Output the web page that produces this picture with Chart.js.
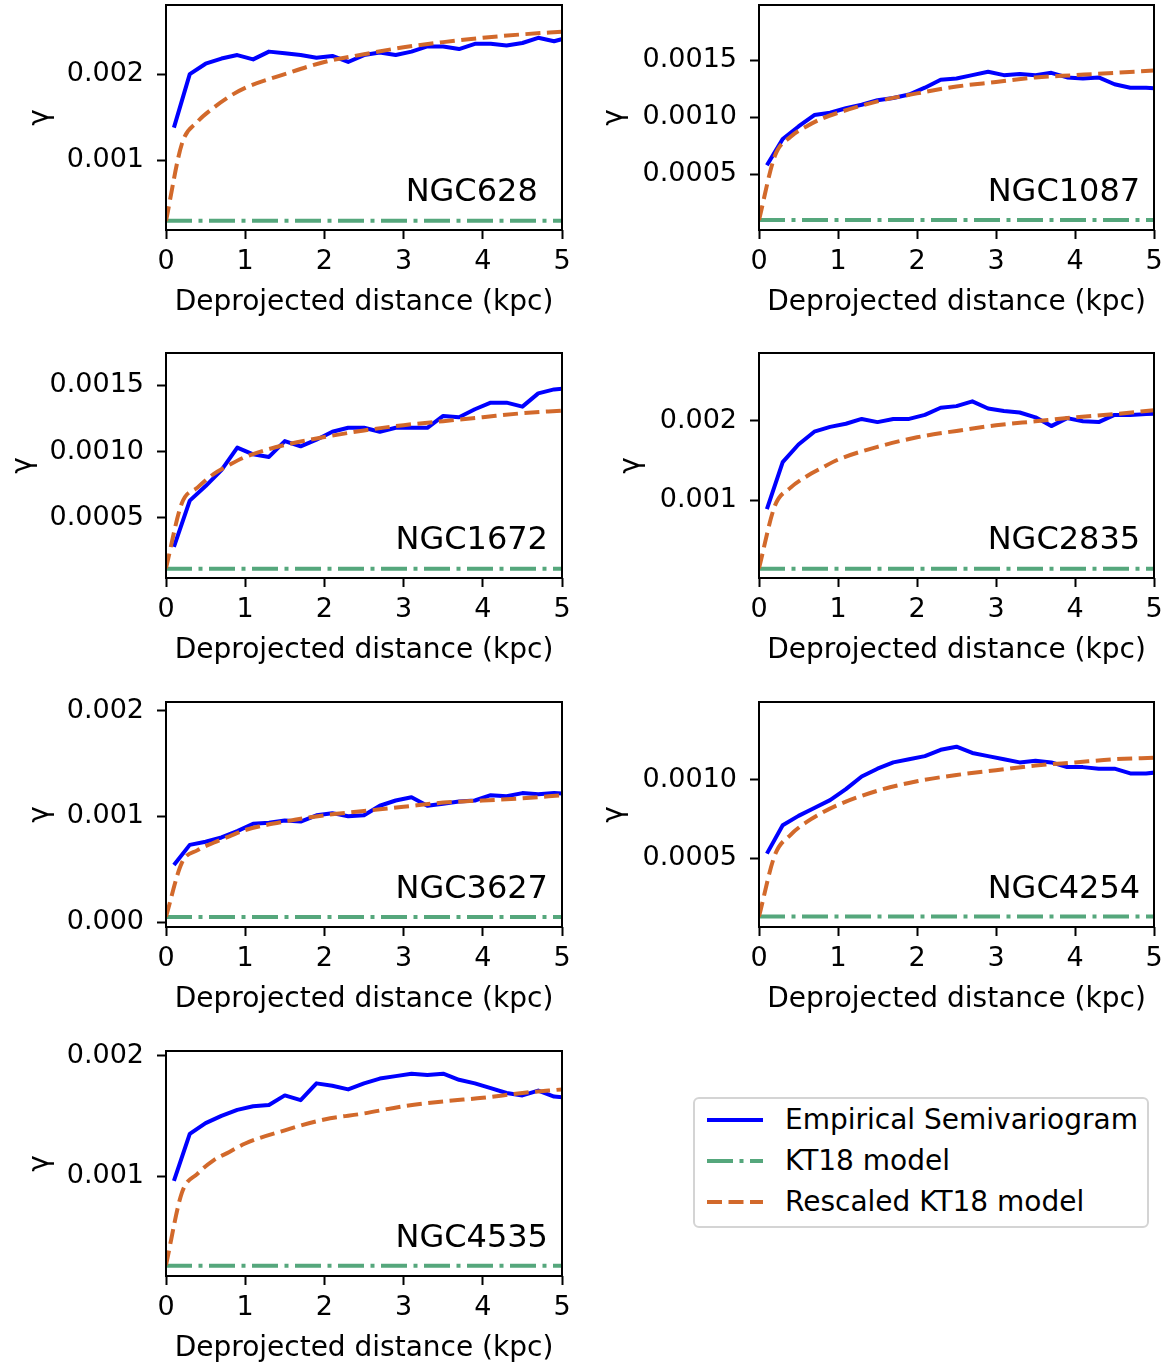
<!DOCTYPE html>
<html>
<head>
<meta charset="utf-8">
<script src="https://cdn.jsdelivr.net/npm/chart.js@4.4.1/dist/chart.umd.min.js"></script>
<style>
  html, body { margin: 0; padding: 0; background: #fff; }
  body { width: 1170px; height: 1362px; position: relative; overflow: hidden; font-family: "DejaVu Sans", sans-serif; }
  canvas.panel { position: absolute; }
  .legend { position: absolute; left: 693px; top: 1097px; width: 452px; height: 127px;
            border: 2px solid #d4d4d4; border-radius: 6px; background: #fff; }
  .legend .row { position: absolute; left: 0; width: 100%; height: 40px; }
  .legend svg { position: absolute; left: 10px; top: 0; }
  .legend span { position: absolute; left: 90px; top: 0; line-height: 40px; font-size: 28px; color: #000; white-space: nowrap; }
</style>
</head>
<body>
<div class="legend">
  <div class="row" style="top:1px">
    <svg width="60" height="40"><line x1="2" y1="20" x2="58" y2="20" stroke="#0000ff" stroke-width="4"/></svg>
    <span>Empirical Semivariogram</span>
  </div>
  <div class="row" style="top:42px">
    <svg width="60" height="40"><line x1="2" y1="20" x2="58" y2="20" stroke="#55a77c" stroke-width="4" stroke-dasharray="26 6.5 4 6.5"/></svg>
    <span>KT18 model</span>
  </div>
  <div class="row" style="top:83px">
    <svg width="60" height="40"><line x1="2" y1="20" x2="58" y2="20" stroke="#d2692b" stroke-width="4" stroke-dasharray="15 6.5"/></svg>
    <span>Rescaled KT18 model</span>
  </div>
</div>
<script>
// distances (kpc)
const empDist = [0.1, 0.3, 0.5, 0.7, 0.9, 1.1, 1.3, 1.5, 1.7, 1.9, 2.1, 2.3, 2.5,
                 2.7, 2.9, 3.1, 3.3, 3.5, 3.7, 3.9, 4.1, 4.3, 4.5, 4.7, 4.9, 5.1];
const modelDist = [0, 0.2, 0.4, 0.6, 0.8, 1.0, 1.5, 2.0, 2.5, 3.0, 3.5, 4.0, 4.5, 5.0];
const kt18Dist = [0, 5];
const xTickValues = [0, 1, 2, 3, 4, 5];

// empirical semivariograms
const emp628 = [0.00138, 0.00200, 0.00212, 0.00218, 0.00222, 0.00217, 0.00226, 0.00224, 0.00222, 0.00219, 0.00221, 0.00214, 0.00222,
                0.00225, 0.00222, 0.00226, 0.00232, 0.00232, 0.00229, 0.00235, 0.00235, 0.00233, 0.00236, 0.00242, 0.00238, 0.00243];
const emp1087 = [0.00058, 0.00081, 0.00092, 0.00102, 0.00104, 0.00108, 0.00111, 0.00115, 0.00117, 0.00120, 0.00126, 0.00133, 0.00134,
                 0.00137, 0.00140, 0.00137, 0.00138, 0.00137, 0.00139, 0.00135, 0.00134, 0.00135, 0.00129, 0.00126, 0.00126, 0.00125];
const emp1672 = [0.00028, 0.00063, 0.00074, 0.00086, 0.00103, 0.00098, 0.00096, 0.00108, 0.00104, 0.00109, 0.00115, 0.00118, 0.00118,
                 0.00115, 0.00118, 0.00118, 0.00118, 0.00127, 0.00126, 0.00132, 0.00137, 0.00137, 0.00134, 0.00144, 0.00147, 0.00148];
const emp2835 = [0.00089, 0.00148, 0.00170, 0.00186, 0.00192, 0.00196, 0.00202, 0.00198, 0.00202, 0.00202, 0.00207, 0.00216, 0.00218,
                 0.00224, 0.00215, 0.00212, 0.00210, 0.00204, 0.00193, 0.00203, 0.00199, 0.00198, 0.00207, 0.00207, 0.00208, 0.00209];
const emp3627 = [0.00054, 0.00073, 0.00076, 0.00080, 0.00086, 0.00093, 0.00094, 0.00096, 0.00095, 0.00101, 0.00103, 0.00100, 0.00101,
                 0.00110, 0.00115, 0.00118, 0.00110, 0.00112, 0.00114, 0.00115, 0.00120, 0.00119, 0.00122, 0.00121, 0.00122, 0.00121];
const emp4254 = [0.00053, 0.00071, 0.00077, 0.00082, 0.00087, 0.00094, 0.00102, 0.00107, 0.00111, 0.00113, 0.00115, 0.00119, 0.00121,
                 0.00117, 0.00115, 0.00113, 0.00111, 0.00112, 0.00111, 0.00108, 0.00108, 0.00107, 0.00107, 0.00104, 0.00104, 0.00105];
const emp4535 = [0.00096, 0.00135, 0.00144, 0.00150, 0.00155, 0.00158, 0.00159, 0.00167, 0.00163, 0.00177, 0.00175, 0.00172, 0.00177,
                 0.00181, 0.00183, 0.00185, 0.00184, 0.00185, 0.00180, 0.00177, 0.00173, 0.00169, 0.00167, 0.00171, 0.00166, 0.00165];

// rescaled KT18 model
const model628 = [0.00030, 0.00119, 0.00145, 0.00161, 0.00174, 0.00184, 0.00200, 0.00214, 0.00223, 0.00231, 0.00237, 0.00242, 0.00246, 0.00249];
const model1087 = [0.00010, 0.00066, 0.00083, 0.00092, 0.00099, 0.00104, 0.00114, 0.00121, 0.00127, 0.00131, 0.00135, 0.00137, 0.00139, 0.00141];
const model1672 = [0.00012, 0.00061, 0.00073, 0.00083, 0.00090, 0.00096, 0.00105, 0.00111, 0.00116, 0.00120, 0.00123, 0.00126, 0.00129, 0.00131];
const model2835 = [0.00015, 0.00093, 0.00116, 0.00130, 0.00141, 0.00151, 0.00167, 0.00179, 0.00187, 0.00194, 0.00199, 0.00204, 0.00208, 0.00213];
const model3627 = [0.00005, 0.00056, 0.00068, 0.00075, 0.00081, 0.00087, 0.00095, 0.00101, 0.00105, 0.00109, 0.00113, 0.00115, 0.00117, 0.00120];
const model4254 = [0.00013, 0.00052, 0.00065, 0.00073, 0.00079, 0.00084, 0.00093, 0.00099, 0.00103, 0.00106, 0.00109, 0.00111, 0.00113, 0.00114];
const model4535 = [0.00026, 0.00086, 0.00102, 0.00113, 0.00120, 0.00127, 0.00138, 0.00147, 0.00152, 0.00158, 0.00162, 0.00165, 0.00169, 0.00172];

// KT18 model (flat)
const kt18_628 = [0.00030, 0.00030];
const kt18_1087 = [0.00010, 0.00010];
const kt18_1672 = [0.000116, 0.000116];
const kt18_2835 = [0.000146, 0.000146];
const kt18_3627 = [0.000047, 0.000047];
const kt18_4254 = [0.00013, 0.00013];
const kt18_4535 = [0.000255, 0.000255];

// y tick labels
const ticks3 = [0.001, 0.002];
const ticks3zero = [0, 0.001, 0.002];
const ticks4 = [0.0005, 0.0010, 0.0015];
const ticks4short = [0.0005, 0.0010];

const BLUE = '#0000ff', GREEN = '#55a77c', ORANGE = '#d2692b';
const TICK_FONT = { family: 'DejaVu Sans', size: 27 };
const TITLE_FONT = { family: 'DejaVu Sans', size: 28 };

const panels = [
  { name: 'NGC628',  col: 0, row: 0, emp: emp628,  model: model628,  kt: kt18_628,  yMin: 0.000194,   yMax: 0.00280,  yTicks: ticks3,      dec: 3, padL: 20 },
  { name: 'NGC1087', col: 1, row: 0, emp: emp1087, model: model1087, kt: kt18_1087, yMin: 0.000012,   yMax: 0.001985, yTicks: ticks4,      dec: 4, padL: 4 },
  { name: 'NGC1672', col: 0, row: 1, emp: emp1672, model: model1672, kt: kt18_1672, yMin: 0.0000455,  yMax: 0.001745, yTicks: ticks4,      dec: 4, padL: 3 },
  { name: 'NGC2835', col: 1, row: 1, emp: emp2835, model: model2835, kt: kt18_2835, yMin: 0.000029,   yMax: 0.002845, yTicks: ticks3,      dec: 3, padL: 21 },
  { name: 'NGC3627', col: 0, row: 2, emp: emp3627, model: model3627, kt: kt18_3627, yMin: -0.0000473, yMax: 0.002082, yTicks: ticks3zero,  dec: 3, padL: 20 },
  { name: 'NGC4254', col: 1, row: 2, emp: emp4254, model: model4254, kt: kt18_4254, yMin: 0.0000636,  yMax: 0.001494, yTicks: ticks4short, dec: 4, padL: 4 },
  { name: 'NGC4535', col: 0, row: 3, emp: emp4535, model: model4535, kt: kt18_4535, yMin: 0.000169,   yMax: 0.002039, yTicks: ticks3,      dec: 3, padL: 20 },
];

// page geometry
const canvasLeft = [0, 590];
const plotLeft = [166, 759];
const plotRight = [562, 1154];
const plotTop = [5, 353, 702, 1051];
// top padding has to exceed the y axis's own label overflow (half a label + tick padding)
const PLOT_H = 225, PAD_TOP = 32, PAD_BOTTOM = 6, XAXIS_H = 94, CANVAS_W = 580;

const frameAndLabel = {
  id: 'frameAndLabel',
  afterDatasetsDraw(chart, args, opts) {
    const { ctx, chartArea: a } = chart;
    ctx.save();
    ctx.strokeStyle = '#000';
    ctx.lineWidth = 2;
    ctx.strokeRect(a.left, a.top, a.right - a.left, a.bottom - a.top);
    ctx.font = '32px "DejaVu Sans"';
    ctx.fillStyle = '#000';
    ctx.textAlign = 'center';
    ctx.textBaseline = 'alphabetic';
    ctx.fillText(opts.text, a.left + 0.772 * (a.right - a.left), a.bottom - 0.182 * (a.bottom - a.top) + 11.7);
    ctx.restore();
  }
};

const pts = (xs, ys) => xs.map((x, i) => ({ x: x, y: ys[i] }));

panels.forEach(p => {
  const cv = document.createElement('canvas');
  cv.className = 'panel';
  const h = PAD_TOP + PLOT_H + XAXIS_H + PAD_BOTTOM;
  cv.width = CANVAS_W;
  cv.height = h;
  cv.style.left = canvasLeft[p.col] + 'px';
  cv.style.top = (plotTop[p.row] - PAD_TOP) + 'px';
  cv.style.width = CANVAS_W + 'px';
  cv.style.height = h + 'px';
  document.body.appendChild(cv);

  const yWidth = plotLeft[p.col] - canvasLeft[p.col] - p.padL;
  const padR = canvasLeft[p.col] + CANVAS_W - plotRight[p.col];

  new Chart(cv, {
    type: 'line',
    data: {
      datasets: [
        { label: 'Empirical Semivariogram', data: pts(empDist, p.emp), borderColor: BLUE, borderWidth: 4,
          pointRadius: 0, tension: 0, borderJoinStyle: 'round', order: 3 },
        { label: 'KT18 model', data: pts(kt18Dist, p.kt), borderColor: GREEN, borderWidth: 4,
          pointRadius: 0, borderDash: [26, 6.5, 4, 6.5], borderCapStyle: 'butt', order: 2 },
        { label: 'Rescaled KT18 model', data: pts(modelDist, p.model), borderColor: ORANGE, borderWidth: 4,
          pointRadius: 0, cubicInterpolationMode: 'monotone', borderDash: [15, 6.5], borderCapStyle: 'butt', order: 1 },
      ]
    },
    options: {
      responsive: false,
      animation: false,
      devicePixelRatio: 1,
      layout: { padding: { left: p.padL, top: PAD_TOP, right: padR, bottom: PAD_BOTTOM } },
      plugins: {
        legend: { display: false },
        tooltip: { enabled: false },
        frameAndLabel: { text: p.name }
      },
      scales: {
        x: {
          type: 'linear', min: 0, max: 5,
          afterBuildTicks: s => { s.ticks = xTickValues.map(v => ({ value: v })); },
          afterFit: s => { s.height = XAXIS_H; },
          ticks: { font: TICK_FONT, color: '#000', padding: 7, maxRotation: 0, autoSkip: false, callback: v => String(v) },
          grid: { display: true, drawOnChartArea: false, drawTicks: true, tickLength: 9, tickWidth: 2, tickColor: '#000' },
          border: { display: false },
          title: { display: true, text: 'Deprojected distance (kpc)', font: TITLE_FONT, color: '#000', padding: { top: 4, bottom: 4 } }
        },
        y: {
          type: 'linear', min: p.yMin, max: p.yMax,
          afterBuildTicks: s => { s.ticks = p.yTicks.map(v => ({ value: v })); },
          afterFit: s => { s.width = yWidth; },
          ticks: { font: TICK_FONT, color: '#000', padding: 13, autoSkip: false, callback: v => Number(v).toFixed(p.dec) },
          grid: { display: true, drawOnChartArea: false, drawTicks: true, tickLength: 9, tickWidth: 2, tickColor: '#000' },
          border: { display: false },
          title: { display: true, text: 'γ', font: TITLE_FONT, color: '#000', padding: { top: 4, bottom: 4 } }
        }
      }
    },
    plugins: [frameAndLabel]
  });
});
</script>
</body>
</html>
